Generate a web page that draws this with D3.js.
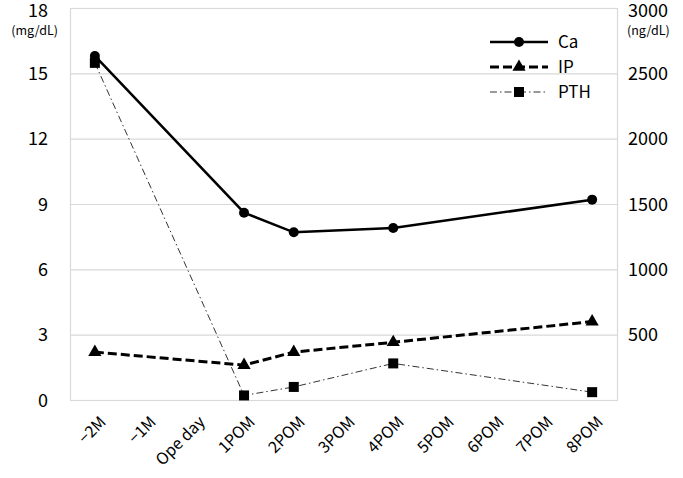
<!DOCTYPE html>
<html><head><meta charset="utf-8">
<script src="https://cdn.jsdelivr.net/npm/d3@7"></script>
<style>body{margin:0;background:#fff}#wrap{position:relative;width:683px;height:478px}svg{display:block;position:absolute;left:0;top:0}text{font-family:"Noto Sans CJK JP","Noto Sans",sans-serif;fill:#000}
.xl{position:absolute;width:100px;height:20px;line-height:20px;text-align:right;font-family:"Noto Sans CJK JP","Noto Sans",sans-serif;font-size:16px;color:#000;white-space:nowrap;transform-origin:100% 50%;transform:rotate(-45deg)}</style>
</head><body><div id="wrap"><svg id="c" width="683" height="478"></svg></div>
<script>
const categories = ["−2M","−1M","Ope day","1POM","2POM","3POM","4POM","5POM","6POM","7POM","8POM"];
const caData = [["−2M",15.8],["1POM",8.6],["2POM",7.7],["4POM",7.9],["8POM",9.2]];
const ipData = [["−2M",2.2],["1POM",1.6],["2POM",2.2],["4POM",2.65],["8POM",3.6]];
const pthData = [["−2M",2580],["1POM",35],["2POM",100],["4POM",280],["8POM",60]];
const leftTicks = [0,3,6,9,12,15,18];
const rightTicks = [500,1000,1500,2000,2500,3000];
const leftUnit = "(mg/dL)", rightUnit = "(ng/dL)";

const svg = d3.select("#c");
const L=70,R=617,T=8,B=400;
const x = d3.scalePoint().domain(categories).range([L,R]).padding(0.5);
const yL = d3.scaleLinear().domain([0,18]).range([B,T]);
const yR = d3.scaleLinear().domain([0,3000]).range([B,T]);

// grid
svg.append("g").selectAll("line").data(leftTicks).join("line")
  .attr("x1",L).attr("x2",R).attr("y1",d=>yL(d)+0.5).attr("y2",d=>yL(d)+0.5)
  .attr("stroke","#d9d9d9").attr("stroke-width",1.2);
svg.append("rect").attr("x",L+0.5).attr("y",T+0.5).attr("width",R-L).attr("height",B-T)
  .attr("fill","none").attr("stroke","#d9d9d9").attr("stroke-width",1.2);

// left axis
const ga = svg.append("g").attr("transform",`translate(${L-22},0)`)
  .call(d3.axisLeft(yL).tickValues(leftTicks).tickSize(0).tickPadding(0));
ga.select(".domain").remove();
ga.selectAll("text").style("font-size","18px").attr("dy",d=>d===18?"0.45em":"0.35em");
svg.append("text").attr("x",58).attr("y",31).attr("dy","0.35em").attr("text-anchor","end")
  .style("font-size","12.5px").text(leftUnit);

// right axis
const gr = svg.append("g").attr("transform",`translate(${R+11},0)`)
  .call(d3.axisRight(yR).tickValues(rightTicks).tickSize(0).tickPadding(0).tickFormat(d3.format("d")));
gr.select(".domain").remove();
gr.selectAll("text").style("font-size","18px").attr("dy",d=>d===3000?"0.45em":"0.35em");
svg.append("text").attr("x",627).attr("y",31).attr("dy","0.35em").attr("text-anchor","start")
  .style("font-size","12.5px").text(rightUnit);

// x labels: rotated HTML labels positioned from the point scale
d3.select("#wrap").selectAll("div.xl").data(categories).join("div").attr("class","xl")
  .style("left",d=>(x(d)+7-100)+"px").style("top",(418-10)+"px").text(d=>d);

const line = y => d3.line().x(d=>x(d[0])).y(d=>y(d[1]));
// PTH
svg.append("path").datum(pthData).attr("d",line(yR)).attr("fill","none")
  .attr("stroke","#333").attr("stroke-width",1).attr("stroke-dasharray","7,3,1.5,3");
svg.append("g").selectAll("rect").data(pthData).join("rect")
  .attr("x",d=>x(d[0])-5).attr("y",d=>yR(d[1])-5).attr("width",10).attr("height",10).attr("fill","#000");
// IP
svg.append("path").datum(ipData).attr("d",line(yL)).attr("fill","none")
  .attr("stroke","#000").attr("stroke-width",3).attr("stroke-dasharray","9,4");
const tri = d3.symbol().type(d3.symbolTriangle).size(75);
svg.append("g").selectAll("path").data(ipData).join("path")
  .attr("d",tri).attr("transform",d=>`translate(${x(d[0])},${yL(d[1])})`).attr("fill","#000");
// Ca
svg.append("path").datum(caData).attr("d",line(yL)).attr("fill","none")
  .attr("stroke","#000").attr("stroke-width",2.5);
svg.append("g").selectAll("circle").data(caData).join("circle")
  .attr("cx",d=>x(d[0])).attr("cy",d=>yL(d[1])).attr("r",5).attr("fill","#000");

// legend
const lg = svg.append("g");
const items = [
  {name:"Ca",y:42,dash:null,w:2.5,m:"c"},
  {name:"IP",y:67,dash:"9,4",w:3,m:"t"},
  {name:"PTH",y:92,dash:"7,3,1.5,3",w:1,m:"s"}];
items.forEach(it=>{
  lg.append("line").attr("x1",490).attr("x2",548).attr("y1",it.y).attr("y2",it.y)
    .attr("stroke",it.m==="s"?"#333":"#000").attr("stroke-width",it.w).attr("stroke-dasharray",it.dash);
  if(it.m==="c") lg.append("circle").attr("cx",519).attr("cy",it.y).attr("r",5).attr("fill","#000");
  if(it.m==="t") lg.append("path").attr("d",tri).attr("transform",`translate(519,${it.y})`).attr("fill","#000");
  if(it.m==="s") lg.append("rect").attr("x",514).attr("y",it.y-5).attr("width",10).attr("height",10).attr("fill","#000");
  lg.append("text").attr("x",558).attr("y",it.y).attr("dy","0.35em").style("font-size","17px").text(it.name);
});
</script></body></html>
